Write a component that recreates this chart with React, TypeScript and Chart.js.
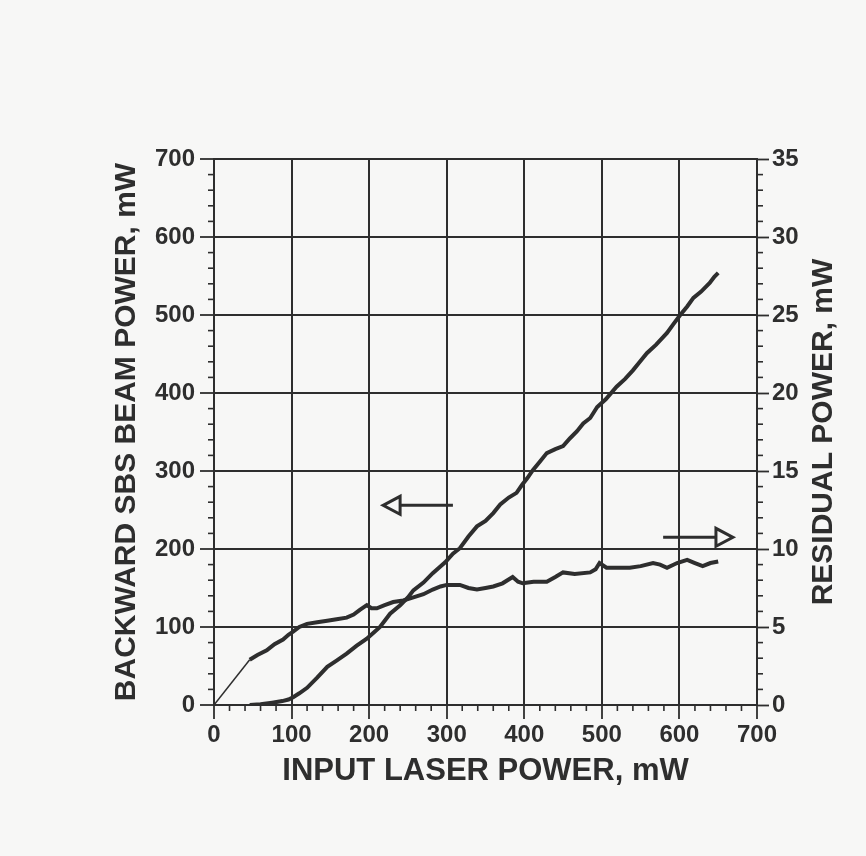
import React, { useEffect, useRef } from "react";
import { Chart, registerables } from "chart.js";

Chart.register(...registerables);

// ---- data ----
const sbsX = [46, 60, 75, 88, 96, 102, 110, 120, 133, 146, 158, 171, 184, 197, 206, 214, 227, 240, 250, 257, 270, 282, 290, 298, 308, 317, 328, 339, 350, 360, 369, 380, 390, 397, 404, 411, 420, 429, 440, 450, 459, 468, 476, 485, 494, 505, 519, 530, 540, 549, 558, 570, 584, 592, 601, 610, 618, 628, 639, 645, 650];
const sbsY = [0, 1, 3, 5, 7, 10, 15, 22, 35, 49, 57, 66, 76, 85, 93, 100, 117, 128, 138, 147, 157, 169, 176, 183, 194, 201, 216, 229, 236, 246, 257, 266, 272, 282, 291, 301, 312, 323, 328, 332, 342, 351, 361, 368, 382, 392, 408, 418, 429, 440, 451, 462, 477, 488, 500, 511, 522, 530, 541, 549, 554];

const resX = [0, 46, 56, 68, 78, 89, 96, 102, 110, 120, 133, 146, 158, 171, 180, 188, 197, 203, 210, 220, 231, 244, 257, 270, 282, 292, 300, 310, 317, 328, 339, 350, 360, 372, 385, 392, 398, 412, 429, 440, 450, 465, 485, 492, 497, 506, 520, 536, 550, 566, 575, 584, 597, 610, 620, 630, 640, 650];
const resY = [0, 2.9, 3.2, 3.5, 3.9, 4.2, 4.5, 4.7, 5.0, 5.2, 5.3, 5.4, 5.5, 5.6, 5.8, 6.1, 6.4, 6.2, 6.2, 6.4, 6.6, 6.7, 6.9, 7.1, 7.4, 7.6, 7.7, 7.7, 7.7, 7.5, 7.4, 7.5, 7.6, 7.8, 8.2, 7.9, 7.8, 7.9, 7.9, 8.2, 8.5, 8.4, 8.5, 8.7, 9.1, 8.8, 8.8, 8.8, 8.9, 9.1, 9.0, 8.8, 9.1, 9.3, 9.1, 8.9, 9.1, 9.2];

const xTitle = "INPUT LASER POWER, mW";
const leftTitle = "BACKWARD SBS BEAM POWER, mW";
const rightTitle = "RESIDUAL POWER, mW";

// arrows (annotation): [fromX, toX, yLeftValue]
const leftArrow = [308, 218, 256];
const rightArrow = [579, 669, 215];

const INK = "#2e2e2e";
const FONT = "'Liberation Sans', Arial, sans-serif";

const decorPlugin = {
  id: "decor",
  beforeDraw(chart: any) {
    const { ctx } = chart;
    ctx.save();
    ctx.fillStyle = "#f7f7f6";
    ctx.fillRect(0, 0, chart.width, chart.height);
    ctx.restore();
  },
  afterDraw(chart: any) {
    const { ctx, scales } = chart;
    const x = scales.x, y = scales.y, y2 = scales.y2;
    ctx.save();
    ctx.strokeStyle = INK;
    ctx.lineWidth = 1.6;
    // minor ticks
    for (let v = 0; v <= 700; v += 20) {
      if (v % 100 === 0) continue;
      const px = x.getPixelForValue(v);
      ctx.beginPath(); ctx.moveTo(px, x.top); ctx.lineTo(px, x.top + 6); ctx.stroke();
      const py = y.getPixelForValue(v);
      ctx.beginPath(); ctx.moveTo(y.right, py); ctx.lineTo(y.right - 6, py); ctx.stroke();
    }
    for (let v = 0; v <= 35; v += 1) {
      if (v % 5 === 0) continue;
      const py = y2.getPixelForValue(v);
      ctx.beginPath(); ctx.moveTo(y2.left, py); ctx.lineTo(y2.left + 6, py); ctx.stroke();
    }
    // arrows
    const drawArrow = (a: number[]) => {
      const x0 = x.getPixelForValue(a[0]);
      const x1 = x.getPixelForValue(a[1]);
      const py = y.getPixelForValue(a[2]);
      const dir = Math.sign(x1 - x0);
      const headLen = 17, half = 9;
      const bx = x1 - dir * headLen;
      ctx.lineWidth = 3;
      ctx.beginPath(); ctx.moveTo(x0, py); ctx.lineTo(bx, py); ctx.stroke();
      ctx.beginPath();
      ctx.moveTo(x1, py); ctx.lineTo(bx, py - half); ctx.lineTo(bx, py + half); ctx.closePath();
      ctx.stroke();
    };
    drawArrow(leftArrow);
    drawArrow(rightArrow);
    // right axis title (reads bottom-to-top)
    ctx.fillStyle = INK;
    ctx.font = `bold 30px ${FONT}`;
    ctx.textAlign = "center";
    ctx.textBaseline = "middle";
    ctx.translate(824, (y2.top + y2.bottom) / 2);
    ctx.rotate(-Math.PI / 2);
    ctx.fillText(rightTitle, 0, 0);
    ctx.restore();
  },
};

export default function App() {
  const ref = useRef<HTMLCanvasElement>(null);
  useEffect(() => {
    if (!ref.current) return;
    const tickFont = { family: FONT, size: 24, weight: "bold" as const };
    const chart = new Chart(ref.current, {
      type: "scatter",
      data: {
        datasets: [
          {
            label: "Backward SBS",
            data: sbsX.map((v, i) => ({ x: v, y: sbsY[i] })),
            yAxisID: "y",
            showLine: true,
            borderColor: INK,
            borderWidth: 4,
            pointRadius: 0,
            tension: 0,
          },
          {
            label: "Residual",
            data: resX.map((v, i) => ({ x: v, y: resY[i] })),
            yAxisID: "y2",
            showLine: true,
            borderColor: INK,
            borderWidth: 4,
            pointRadius: 0,
            tension: 0,
            segment: { borderWidth: (c: any) => (c.p0DataIndex === 0 ? 1.5 : 4) },
          } as any,
        ],
      },
      options: {
        responsive: false,
        animation: false,
        layout: { padding: { top: 159, left: 0, right: 0, bottom: 0 } },
        plugins: { legend: { display: false }, tooltip: { enabled: false } },
        scales: {
          x: {
            type: "linear",
            min: 0,
            max: 700,
            ticks: { stepSize: 100, font: tickFont, color: INK, padding: 2, maxRotation: 0 },
            grid: { color: INK, lineWidth: 2, tickLength: 14, tickColor: INK, tickWidth: 1.8 },
            border: { color: INK, width: 2 },
            title: { display: true, text: xTitle, font: { family: FONT, size: 31, weight: "bold" }, color: INK, padding: { top: 0, bottom: 66 } },
            afterFit: (s: any) => { s.height = 151; },
          },
          y: {
            type: "linear",
            position: "left",
            min: 0,
            max: 700,
            ticks: { stepSize: 100, font: tickFont, color: INK, padding: 5 },
            grid: { color: INK, lineWidth: 2, tickLength: 14, tickColor: INK, tickWidth: 1.8 },
            border: { color: INK, width: 2 },
            title: { display: true, text: leftTitle, font: { family: FONT, size: 30, weight: "bold" }, color: INK, padding: { top: 109, bottom: 0 } },
            afterFit: (s: any) => { s.width = 214; },
          },
          y2: {
            type: "linear",
            position: "right",
            min: 0,
            max: 35,
            ticks: { stepSize: 5, font: tickFont, color: INK, padding: 3 },
            grid: { drawOnChartArea: false, tickLength: 12, tickColor: INK, tickWidth: 1.8 },
            border: { color: INK, width: 2 },
            afterFit: (s: any) => { s.width = 109; },
          },
        },
      },
      plugins: [decorPlugin],
    });
    return () => chart.destroy();
  }, []);
  return (
    <div style={{ position: "fixed", left: 0, top: 0, width: 866, height: 856 }}>
      <canvas ref={ref} width={866} height={856} style={{ display: "block" }} />
    </div>
  );
}
